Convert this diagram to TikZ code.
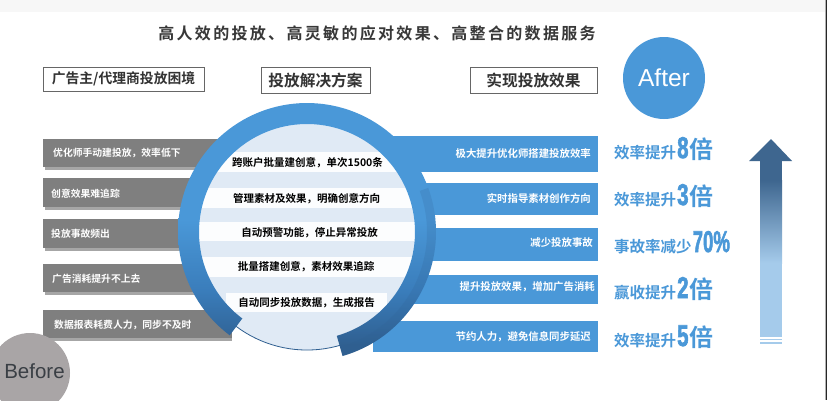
\documentclass[tikz,border=0pt]{standalone}
\usepackage{fontspec}
\usepackage{graphicx}
\setmainfont{Liberation Sans}
\newfontfamily\cjktitle{Noto Sans CJK SC Bold}[LetterSpace=14.5]
\newfontfamily\cjkb{Noto Sans CJK SC Bold}
\newfontfamily\numfont{Liberation Sans Bold}[FakeBold=2.5]
\definecolor{barblue}{HTML}{4A98D8}
\definecolor{bargray}{HTML}{7F7F7F}
\definecolor{discblue}{HTML}{E0EAF5}
\definecolor{ringdark}{HTML}{2F5F90}
\definecolor{ringmid}{HTML}{3A7DBB}
\definecolor{arrowdark}{HTML}{3E668F}
\definecolor{arrowlight}{HTML}{A5CBEB}
\definecolor{beforegray}{HTML}{A9A5A6}
\definecolor{beforetext}{HTML}{3A3F45}
\newcommand{\fs}[1]{\fontsize{#1}{#1}\selectfont}
\newcommand{\resline}[3]{{\fs{15.5}\cjkb #1}\kern1pt\scalebox{#3}[1]{\fs{30}\numfont #2}}
\pgfdeclareverticalshading{ringshade}{100bp}{color(0bp)=(ringdark); color(27bp)=(ringdark); color(38bp)=(ringmid); color(52bp)=(barblue); color(100bp)=(barblue)}
\tikzset{
  blueb/.style={fill=barblue,draw=none},
  band/.style={fill=white,fill opacity=.92,draw=none},
  head/.style={draw=black!60,fill=white,line width=.7pt,inner sep=0pt,text=black!80},
  glabel/.style={text=white,inner sep=0pt,anchor=west,font={\fs{9.8}\cjkb}},
  blabel/.style={text=white,inner sep=0pt,anchor=east,font={\fs{10.4}\cjkb}},
  clabel/.style={text=black,inner sep=0pt,font={\fs{10.5}\cjkb}},
  result/.style={text=barblue,inner sep=0pt,anchor=base west},
}
\begin{document}
\begin{tikzpicture}[x=1pt,y=-1pt]
\useasboundingbox (0,0) rectangle (827,400);
\fill[white] (0,0) rectangle (827,400);
\fill[black!3] (0,0) rectangle (827,12);
\fill[black!30] (825,0) rectangle (826,400);
\fill[black!85] (826,0) rectangle (827,400);
\node[inner sep=0pt,text=black!78,font={\fs{16}\cjktitle}] (title) at (377,33) {高人效的投放、高灵敏的应对效果、高整合的数据服务};
\node[head,font={\fs{13.8}\cjkb},minimum width=161pt,minimum height=24pt] (h1) at (123.5,79) {广告主/代理商投放困境};
\node[head,font={\fs{15.7}\cjkb},minimum width=109pt,minimum height=26pt] (h2) at (315.5,80) {投放解决方案};
\node[head,font={\fs{15.7}\cjkb},minimum width=127pt,minimum height=26pt] (h3) at (533.5,80) {实现投放效果};
\node[circle,fill=barblue,minimum size=82pt,inner sep=0pt,text=white,font=\fs{24.5}] (after) at (664,78) {After};
% grey bars
\foreach \a/\b in {139/167,178/207,219/248,264/292,310/338}
  \fill[black!35] (45,\b) rectangle (232,\b+2.5);
\foreach \a/\b in {139/167,178/207,219/248,264/292,310/338}
  \fill[bargray] (43,\a) rectangle (232,\b);
% blue bars
\foreach \a/\b in {136/172,183/215,228/261,275/304,321/352}
  \fill[blueb] (373,\a) rectangle (598,\b);
% disc with bands
\fill[discblue] (307,232) circle[radius=118pt];
\draw[ringdark,line width=.8pt] (307,232) circle[radius=118pt];
\begin{scope}
\clip (307,232) circle[radius=118pt];
\foreach \a/\b in {152/172,188/208,222/241,257/277}
  \fill[band] (180,\a) rectangle (430,\b);
\fill[band] (226,293) rectangle (387,312);
\end{scope}
% ring
\shade[shading=ringshade]
  plot[domain=126.8:434,samples=120] ({307+129*cos(\x)},{232+129*sin(\x)})
  -- plot[domain=434:126.8,samples=120] ({307+108*cos(\x)},{232+108*sin(\x)}) -- cycle;
\fill[ringdark,opacity=.18]
  plot[domain=-20:74,samples=50] ({307+129*cos(\x)},{232+129*sin(\x)})
  -- plot[domain=74:-20,samples=50] ({307+120*cos(\x)},{232+120*sin(\x)}) -- cycle;
\node[glabel] (g1) at (53,153) {优化师手动建投放，效率低下};
\node[glabel] (g2) at (51,194) {创意效果难追踪};
\node[glabel] (g3) at (51,234) {投放事故频出};
\node[glabel] (g4) at (52,279) {广告消耗提升不上去};
\node[glabel] (g5) at (54,325) {数据报表耗费人力，同步不及时};
\node[clabel] (c1) at (307.5,163) {跨账户批量建创意，单次1500条};
\node[clabel] (c2) at (306.5,199) {管理素材及效果，明确创意方向};
\node[clabel] (c3) at (309.5,233) {自动预警功能，停止异常投放};
\node[clabel] (c4) at (306,267) {批量搭建创意，素材效果追踪};
\node[clabel] (c5) at (306.5,303) {自动同步投放数据，生成报告};
\node[blabel] (b1) at (591,154) {极大提升优化师搭建投放效率};
\node[blabel] (b2) at (591,198) {实时指导素材创作方向};
\node[blabel] (b3) at (593,243) {减少投放事故};
\node[blabel] (b4) at (595,287) {提升投放效果，增加广告消耗};
\node[blabel] (b5) at (591,337) {节约人力，避免信息同步延迟};
\node[result] (r1) at (614,158) {\resline{效率提升}{8}{.68}\kern1pt{\fs{24}\cjkb 倍}};
\node[result] (r2) at (614,205) {\resline{效率提升}{3}{.68}\kern1pt{\fs{24}\cjkb 倍}};
\node[result] (r3) at (614,252) {\resline{事故率减少}{70\%}{.62}};
\node[result] (r4) at (614,298) {\resline{赢收提升}{2}{.68}\kern1pt{\fs{24}\cjkb 倍}};
\node[result] (r5) at (614,346) {\resline{效率提升}{5}{.68}\kern1pt{\fs{24}\cjkb 倍}};
% arrow
\fill[arrowdark] (771,139) -- (792,161) -- (749,161) -- cycle;
\shade[top color=arrowdark,bottom color=arrowlight] (760,180) rectangle (782,263);
\fill[arrowdark] (760,161) rectangle (782,180.2);
\fill[arrowlight] (760,262.8) rectangle (782,337);
\fill[arrowlight] (760,338.5) rectangle (782,340);
\fill[arrowlight] (760,341.5) rectangle (782,343.5);
% before
\begin{scope}
\clip (0,0) rectangle (827,400);
\fill[beforegray] (30,373) circle[radius=40pt];
\end{scope}
\node[inner sep=0pt,text=beforetext,font=\fs{20.5}] (before) at (34.5,371) {Before};
\end{tikzpicture}
\end{document}
